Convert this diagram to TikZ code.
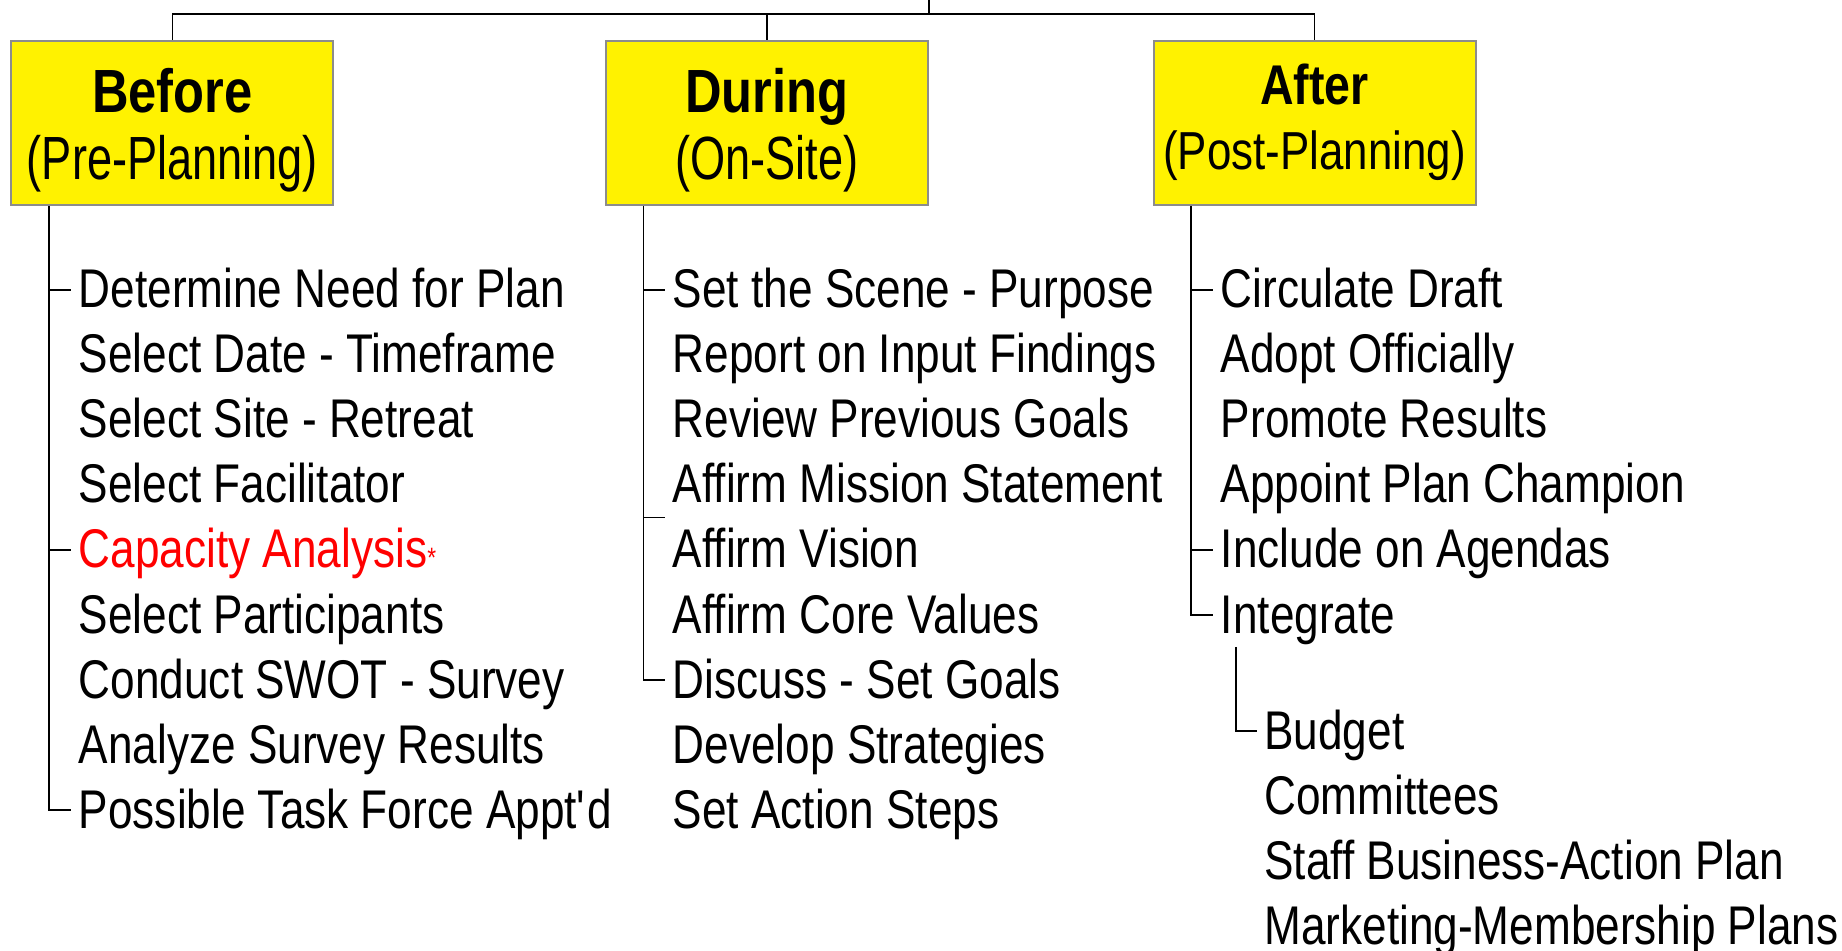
\documentclass[tikz,border=0pt]{standalone}
\usepackage{fontspec}
\setmainfont{Liberation Sans}[FakeStretch=0.81]
\newfontfamily\headfont{Liberation Sans}[FakeStretch=0.83]
\newfontfamily\subfont{Liberation Sans}[FakeStretch=0.74]
\newfontfamily\postfont{Liberation Sans}[FakeStretch=0.82]
\definecolor{edgegray}{RGB}{140,140,140}

\begin{document}
\begin{tikzpicture}[x=0.5pt, y=-0.5pt,
    phase/.style={draw=edgegray, line width=1pt, fill=yellow, minimum width=161pt,
        minimum height=82pt, inner xsep=2pt, inner ysep=0pt, align=center},
    item/.style={anchor=base west, inner xsep=3.75pt, inner ysep=0pt,
        font=\fontsize{27.25}{32.5}\selectfont},
    branch/.style={line width=0.75pt}]
    \useasboundingbox (0,0) rectangle (1842,951);

    % phase boxes
    \node[phase, font=\fontsize{30.5}{33.5}\selectfont] (before) at (172.4,123)
        {\rule{0pt}{30.5pt}\headfont\bfseries Before\\
         \subfont\mdseries (Pre-Planning)\rule[-7pt]{0pt}{7pt}};
    \node[phase, font=\fontsize{30.5}{33.5}\selectfont] (during) at (766.8,123)
        {\rule{0pt}{30.5pt}\headfont\bfseries During\\
         \subfont\mdseries (On-Site)\rule[-7pt]{0pt}{7pt}};
    \node[phase, font=\fontsize{26.75}{32.5}\selectfont] (after) at (1314.5,123)
        {\rule{0pt}{21pt}\headfont\bfseries\fontsize{28}{32.5}\selectfont After\\
         \postfont\mdseries\fontsize{26.75}{32.5}\selectfont (Post-Planning)\rule[-6.5pt]{0pt}{6.5pt}};

    % before
    \node[item] (b1) at (71,308) {Determine Need for Plan};
    \node[item] (b2) at (71,373) {Select Date - Timeframe};
    \node[item] (b3) at (71,438) {Select Site - Retreat};
    \node[item] (b4) at (71,503) {Select Facilitator};
    \node[item, text=red] (b5) at (71,568) {Capacity Analysis{\fontsize{14}{14}\selectfont *}};
    \node[item] (b6) at (71,633) {Select Participants};
    \node[item] (b7) at (71,698) {Conduct SWOT - Survey};
    \node[item] (b8) at (71,763) {Analyze Survey Results};
    \node[item] (b9) at (71,828) {Possible Task Force Appt\textquotesingle d};

    % during
    \node[item] (d1) at (665,308) {Set the Scene - Purpose};
    \node[item] (d2) at (665,373) {Report on Input Findings};
    \node[item] (d3) at (665,438) {Review Previous Goals};
    \node[item] (d4) at (665,503) {Affirm Mission Statement};
    \node[item] (d5) at (665,568) {Affirm Vision};
    \node[item] (d6) at (665,633) {Affirm Core Values};
    \node[item] (d7) at (665,698) {Discuss - Set Goals};
    \node[item] (d8) at (665,763) {Develop Strategies};
    \node[item] (d9) at (665,828) {Set Action Steps};

    % after
    \node[item] (a1) at (1213,308) {Circulate Draft};
    \node[item] (a2) at (1213,373) {Adopt Officially};
    \node[item] (a3) at (1213,438) {Promote Results};
    \node[item] (a4) at (1213,503) {Appoint Plan Champion};
    \node[item] (a5) at (1213,568) {Include on Agendas};
    \node[item] (a6) at (1213,633) {Integrate};
    \node[item] (s1) at (1256.5,749) {Budget};
    \node[item] (s2) at (1256.5,814) {Committees};
    \node[item] (s3) at (1256.5,879) {Staff Business-Action Plan};
    \node[item] (s4) at (1256.5,944) {Marketing-Membership Plans};

    % top connectors
    \coordinate (top) at (929,0);
    \coordinate (hub) at (929,14);
    \draw[line width=0.9pt] (top) -- (hub);
    \draw[line width=1.35pt] (before.north |- hub) -- (after.north |- hub);
    \draw[line width=0.9pt] (before.north |- hub) -- (before.north);
    \draw[line width=0.9pt] (during.north |- hub) -- (during.north);
    \draw[line width=0.9pt] (after.north |- hub) -- (after.north);

    % before tree
    \coordinate (broot) at ([xshift=19.25pt]before.south west);
    \coordinate (b1t) at ([yshift=9pt]b1.base west);
    \coordinate (b5t) at ([yshift=9pt]b5.base west);
    \coordinate (b9t) at ([yshift=9pt]b9.base west);
    \draw[branch] (broot) |- (b9t);
    \draw[branch] (broot |- b1t) -- (b1t);
    \draw[branch] (broot |- b5t) -- (b5t);

    % during tree
    \coordinate (droot) at ([xshift=19.25pt]during.south west);
    \coordinate (d1t) at ([yshift=9pt]d1.base west);
    \coordinate (dmid) at ([yshift=-7.25pt]d4.base west);
    \coordinate (d7t) at ([yshift=9pt]d7.base west);
    \draw[branch] (droot) |- (d7t);
    \draw[branch] (droot |- d1t) -- (d1t);
    \draw[branch] (droot |- dmid) -- (dmid);

    % after tree
    \coordinate (aroot) at ([xshift=19.25pt]after.south west);
    \coordinate (a1t) at ([yshift=9pt]a1.base west);
    \coordinate (a5t) at ([yshift=9pt]a5.base west);
    \coordinate (a6t) at ([yshift=9pt]a6.base west);
    \draw[branch] (aroot) |- (a6t);
    \draw[branch] (aroot |- a1t) -- (a1t);
    \draw[branch] (aroot |- a5t) -- (a5t);
    \coordinate (iroot) at ([xshift=11.5pt,yshift=-7pt]a6.base west);
    \coordinate (s1t) at ([yshift=9pt]s1.base west);
    \draw[branch] (iroot) |- (s1t);
\end{tikzpicture}
\end{document}
